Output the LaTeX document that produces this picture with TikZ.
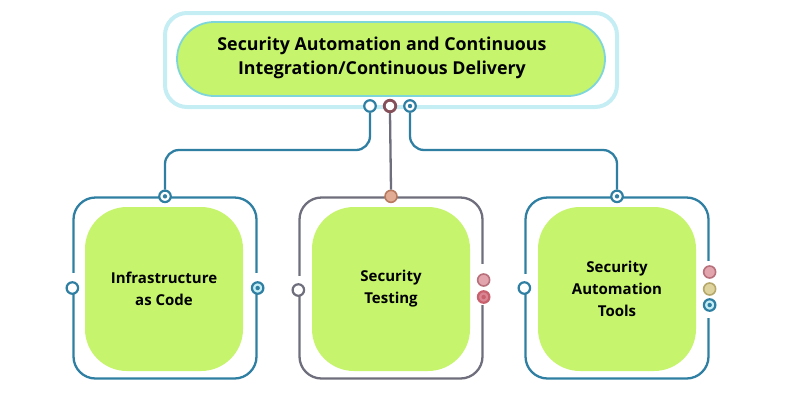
\documentclass[tikz,border=0pt]{standalone}
\usepackage{fontspec}
\setmainfont{Open Sans}
\definecolor{teal1}{HTML}{2F7FA3}
\definecolor{gray1}{HTML}{6E6E7C}
\definecolor{lime1}{HTML}{C6F46C}
\definecolor{cyanlt}{HTML}{C4EDF4}
\definecolor{cyanmd}{HTML}{7FD6DA}
\definecolor{maroon1}{HTML}{86505A}
\definecolor{pink1}{HTML}{D98592}
\definecolor{pink2}{HTML}{C9606E}
\definecolor{yell1}{HTML}{D6C67E}
\definecolor{orng1}{HTML}{D99070}
\tikzset{
  frame/.style={draw=#1, line width=2.3pt, rounded corners=22pt, minimum width=183pt, minimum height=181pt, inner sep=0pt},
  blob/.style={fill=lime1, rounded corners=42pt, minimum width=158pt, minimum height=164pt, inner sep=0pt, align=center, font=\fontsize{15}{22}\selectfont\bfseries},
  port/.style={circle, draw=#1, line width=2.2pt, fill=white, minimum size=11.5pt, inner sep=0pt},
  dotport/.style={circle, draw=#1, line width=2.2pt, fill=white, minimum size=11.5pt, inner sep=0pt, path picture={\fill[#1] (path picture bounding box.center) circle (2.2pt);}},
  fullport/.style={circle, draw=#1!85!black, line width=1.6pt, fill=#1!75!white, minimum size=12pt, inner sep=0pt},
  link/.style={draw=#1, line width=2.3pt, rounded corners=14pt},
  gap/.style={draw=white, line width=5pt},
}
\begin{document}
\begin{tikzpicture}[x=1pt,y=-1pt]
\useasboundingbox (0,0) rectangle (800,400);
% top
\node[draw=cyanlt, line width=4pt, rounded corners=22pt, minimum width=452pt, minimum height=94pt] (topframe) at (391,60) {};
\node[fill=lime1, draw=cyanmd, line width=1.8pt, rounded corners=37pt, minimum width=428pt, minimum height=74pt] (title) at (391,59) {};
\node[align=center, font=\fontsize{17.8}{24}\selectfont\bfseries] (titletext) at (382,58) {Security Automation and Continuous\\Integration/Continuous Delivery};
% frames
\node[frame=teal1] (f1) at (165,288) {};
\node[frame=gray1] (f2) at (391,288) {};
\node[frame=teal1] (f3) at (617,288) {};
% gaps in frames
\draw[gap] (f1.west |- 0,273) -- (f1.west |- 0,284);
\draw[gap] (f1.east |- 0,273) -- (f1.east |- 0,283);
\draw[gap] (f2.west |- 0,276) -- (f2.west |- 0,286);
\draw[gap] (f2.east |- 0,264) -- (f2.east |- 0,305);
\draw[gap] (f3.west |- 0,274) -- (f3.west |- 0,284);
\draw[gap] (f3.east |- 0,261) -- (f3.east |- 0,318);
% blobs
\node[blob] (b1) at (164,289) {Infrastructure\\as Code};
\node[blob] (b2) at (391,289) {Security\\Testing};
\node[blob] (b3) at (617,289) {Security\\Automation\\Tools};
% top ports
\node[port=teal1] (p1) at (370,106) {};
\node[port=maroon1, line width=2.8pt] (p2) at (390,106) {};
\node[dotport=teal1] (p3) at (410,106) {};
% frame top ports
\node[dotport=teal1] (q1) at (f1.north) {};
\node[fullport=orng1] (q2) at (f2.north) {};
\node[dotport=teal1] (q3) at (f3.north) {};
% links
\draw[link=teal1] (p1.south) |- (165,150) -- (q1.north);
\draw[link=gray1] (p2.south) -- (q2.north);
\draw[link=teal1] (p3.south) |- (617,150) -- (q3.north);
% side ports
\node[port=teal1] (s1) at (f1.west |- 0,288) {};
\node[dotport=teal1, fill=cyanlt] (s2) at (f1.east |- 0,288) {};
\node[port=gray1] (s3) at (f2.west |- 0,290) {};
\node[fullport=pink1] (s4) at (f2.east |- 0,280) {};
\node[dotport=pink2, fill=pink1] (s5) at (f2.east |- 0,297) {};
\node[port=teal1] (s6) at (f3.west |- 0,288) {};
\node[fullport=pink1] (s7) at (f3.east |- 0,272) {};
\node[fullport=yell1] (s8) at (f3.east |- 0,289) {};
\node[dotport=teal1, fill=cyanlt] (s9) at (f3.east |- 0,305) {};
\end{tikzpicture}
\end{document}
